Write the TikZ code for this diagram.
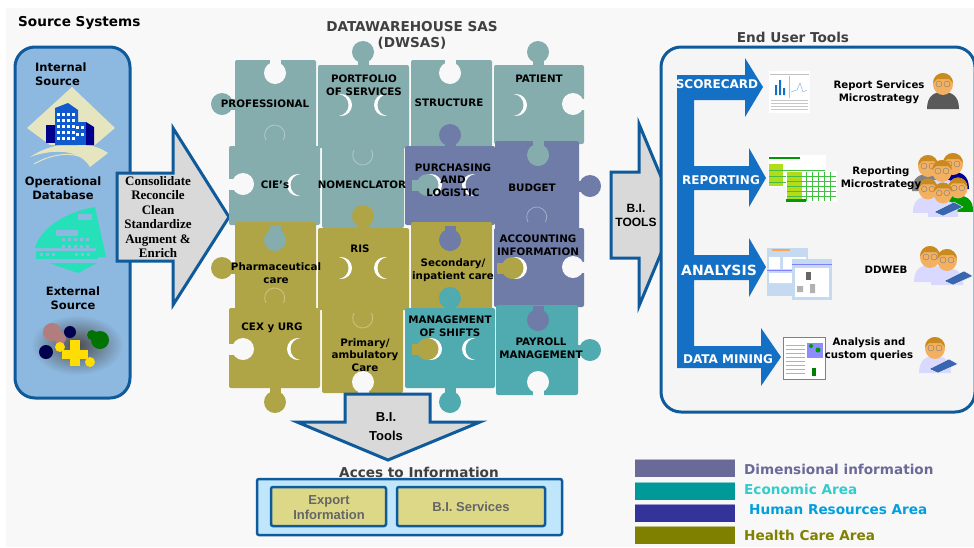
\documentclass[tikz,border=0pt]{standalone}
\usepackage{fontspec}
\setmainfont{DejaVu Sans}
\newfontfamily\cambriaish{Liberation Serif}
\newfontfamily\arialish{Liberation Sans}
\definecolor{pagegray}{HTML}{F8F8F8}
\definecolor{panelgray}{HTML}{F5F5F5}
\definecolor{frameblue}{HTML}{0F5A9A}
\definecolor{sourceblue}{HTML}{8DB8E0}
\definecolor{arrowgray}{HTML}{D9D9D9}
\definecolor{barblue}{HTML}{1470C4}
\definecolor{pieceteal}{HTML}{85ADAD}
\definecolor{pieceolive}{HTML}{AFA546}
\definecolor{pieceblue}{HTML}{6F7CA8}
\definecolor{pieceturq}{HTML}{4FABB0}
\definecolor{titlegray}{HTML}{404040}
\definecolor{skin}{HTML}{F2B060}
\definecolor{hair}{HTML}{C98A20}
\definecolor{bookblue}{HTML}{3A66B0}
\definecolor{mint}{HTML}{25E0B8}
\definecolor{beige}{HTML}{E5E5BF}
\definecolor{screenblue}{HTML}{C5DAF0}
\definecolor{outerbox}{HTML}{BFE6FA}
\definecolor{innerbox}{HTML}{DDD888}
\tikzset{
  lab/.style={font=\bfseries\fontsize{10.3}{12.7}\selectfont, align=center, inner sep=0pt},
  smalllab/.style={font=\bfseries\fontsize{10.2}{12.7}\selectfont, align=center, inner sep=0pt},
  head/.style={font=\bfseries\fontsize{13.6}{16}\selectfont, align=center, inner sep=0pt},
  sourcelab/.style={font=\bfseries\fontsize{11.5}{14}\selectfont, align=center, inner sep=0pt},
  barlab/.style={font=\bfseries\fontsize{12}{14}\selectfont, text=white, inner sep=0pt},
  legendlab/.style={font=\bfseries\fontsize{13.6}{15}\selectfont, anchor=west, inner sep=0pt},
  boxlab/.style={align=center, inner sep=0pt, text=black!60, font=\arialish\bfseries\fontsize{13}{15.5}\selectfont},
  grayblock/.style={draw=frameblue, line width=3pt, fill=arrowgray},
  panel/.style={draw=frameblue, line width=3pt, rounded corners=20pt},
  infobox/.style={draw=frameblue, line width=2.5pt, fill=#1, rounded corners=2pt},
  ghost/.style={draw=white, opacity=.35, line width=.8pt},
  person/.pic={
    \fill[#1] (-16,25) .. controls (-16,11) and (-8,8) .. (0,8) .. controls (8,8) and (16,11) .. (16,25) -- cycle;
    \fill[skin] (0,0) ellipse (10 and 11);
    \fill[hair] (-10,-1) arc (180:360:10) -- (6,-5) -- (-6,-5) -- cycle;
    \draw[gray,thin] (-4,0) circle (3) (4,0) circle (3);
  },
  book/.pic={
    \fill[bookblue,draw=white,thin] (-14,4) -- (6,-6) -- (15,-1) -- (-5,8) -- cycle;
  },
}
\begin{document}
\begin{tikzpicture}[x=1pt,y=-1pt]
\useasboundingbox (0,0) rectangle (974,547);
\fill[white] (0,0) rectangle (974,547);
\fill[pagegray] (6,8) rectangle (974,547);

%%%%%%%%%%%%%%%%%%%%%%%%%%%%%%%%%%%%%%%%%%% source systems
\node[head, anchor=west](sourcetitle) at (18,23) {Source Systems};
\draw[panel, fill=sourceblue] (15,47) rectangle (130,398);
\node[sourcelab, align=left, anchor=west](internal) at (35,74) {Internal\\Source};
\node[sourcelab](operational) at (63,188) {Operational\\Database};
\node[sourcelab](external) at (73,298) {External\\Source};

%%%%% building
\fill[beige] (72,87) -- (115,128) -- (95,145) -- (50,145) -- (27,128) -- cycle;
\fill[beige] (30,157) .. controls (55,140) and (90,140) .. (108,153) -- (90,167) .. controls (80,150) and (55,148) .. (30,157) -- cycle;
\draw[beige, line width=1pt] (34,164) .. controls (55,152) and (75,152) .. (88,160);
\fill[barblue!80!blue] (55,108) -- (68,103) -- (78,110) -- (78,145) -- (55,145) -- cycle;
\fill[blue!55!black] (46,125) rectangle (55,143);
\fill[barblue!80!blue] (73,122) rectangle (86,145);
\fill[blue!55!black] (86,122) -- (94,127) -- (94,145) -- (86,145) -- cycle;
\foreach \x in {57,62,67,72}
  \foreach \y in {113,119,125,131,137}
    \fill[white] (\x,\y) rectangle +(2.5,3);
\foreach \x in {76,81}
  \foreach \y in {126,133}
    \fill[white] (\x,\y) rectangle +(2.5,3);

%%%%% hospital
\fill[mint] (35,247) .. controls (42,228) and (65,212) .. (95,207) -- (106,257) -- (96,257) -- (96,248) -- (35,248) -- cycle;
\fill[mint] (36,251) rectangle (98,259);
\fill[mint] (49,263) -- (97,263) -- (78,273) -- cycle;
\fill[sourceblue] (56,230) rectangle (78,236);
\fill[sourceblue] (78,214) rectangle (92,220);
\foreach \x in {62,68,74,80,86}
  \foreach \y in {238,245}
    \fill[sourceblue] (\x,\y) rectangle +(3,3);
\foreach \x in {40,46,52,75,81,87}
  \fill[sourceblue] (\x,253) rectangle +(3,3);

%%%%% external picture
\shade[inner color=black!70, middle color=black!60, outer color=sourceblue] (77,345) ellipse (46 and 30);
\fill[red!30!white!70!black] (52,332) circle (9) (60,338) circle (6);
\fill[blue!30!black] (70,332) circle (6) (46,352) circle (7);
\fill[green!45!black] (100,340) circle (9) (92,335) circle (5);
\fill[yellow!80!orange] (62,350) rectangle (88,359);
\fill[yellow!80!orange] (70,340) rectangle (80,366);
\fill[yellow!80!orange] (60,347) circle (5) (90,362) circle (5);

\draw[grayblock] (117,173) -- (173,173) -- (173,128) -- (229,217) -- (173,305) -- (173,261) -- (117,261) -- cycle;
\node[align=center, inner sep=0pt, font=\cambriaish\bfseries\fontsize{13}{14.5}\selectfont](steps) at (158,217) {Consolidate\\Reconcile\\Clean\\Standardize\\Augment \&\\Enrich};

%%%%%%%%%%%%%%%%%%%%%%%%%%%%%%%%%%%%%%%%%%% puzzle
\node[head, text=titlegray](dwtitle) at (412,35) {DATAWAREHOUSE SAS\\(DWSAS)};

%%%%% pieces
\begin{scope}[rounded corners=2pt]
\fill[pieceteal] (235,60) rectangle (316,148);
\fill[pieceteal] (318,65) rectangle (409,148);
\fill[pieceteal] (411,60) rectangle (492,148);
\fill[pieceteal] (494,65) rectangle (584,144);
\fill[pieceteal] (229,146) rectangle (320,225);
\fill[pieceteal] (322,146) rectangle (404,228);
\fill[pieceblue] (405,146) rectangle (495,225);
\fill[pieceblue] (495,141) rectangle (579,230);
\fill[pieceolive] (235,222) rectangle (316,310);
\fill[pieceolive] (318,228) rectangle (409,310);
\fill[pieceolive] (411,222) rectangle (492,310);
\fill[pieceblue] (494,228) rectangle (584,307);
\fill[pieceolive] (229,308) rectangle (320,388);
\fill[pieceolive] (322,308) rectangle (403,393);
\fill[pieceturq] (405,308) rectangle (495,388);
\fill[pieceturq] (496,305) rectangle (578,395);
\end{scope}

%%%%% tabs and crescents
\foreach \cx/\cy/\dx/\col in {341/105/-1/pieceteal,385/105/1/pieceteal,516/105/-1/pieceteal,
    298/185/1/pieceteal,431/185/-1/pieceteal,473/185/1/pieceblue,
    341/268/-1/pieceolive,385/268/1/pieceolive,516/268/-1/pieceolive,
    298/349/1/pieceolive,431/349/-1/pieceolive,473/349/1/pieceturq}{
  \fill[white] (\cx,\cy) circle (11);
  \fill[\col] (\cx+\dx*3.5,\cy) circle (11);
  \draw[\col, line width=11pt] (\cx+\dx*3.5,\cy) -- ++(\dx*16,0);
}
\foreach \cx/\cy/\dx/\dy/\col in {363/52/0/14/pieceteal,538/52/0/14/pieceteal,222/104/14/0/pieceteal,
    450/135/0/14/pieceblue,590/186/-13/0/pieceblue,222/268/14/0/pieceolive,363/216/0/14/pieceolive,
    275/402/0/-14/pieceolive,450/298/0/14/pieceturq,450/402/0/-14/pieceturq,590/350/-13/0/pieceturq,
    275/240/0/-14/pieceteal,450/240/0/-14/pieceblue,538/155/0/-14/pieceteal,538/320/0/-14/pieceblue,
    275/73/0/-15/pagegray,450/73/0/-15/pagegray,573/104/15/0/pagegray,573/267/15/0/pagegray,
    243/184/-15/0/pagegray,243/349/-15/0/pagegray,363/382/0/13/pagegray,538/382/0/15/pagegray}{
  \fill[\col] (\cx,\cy) circle (11);
  \draw[\col, line width=11pt] (\cx,\cy) -- ++(\dx,\dy);
}
\draw[ghost] (266,140) arc (150:390:10);
\draw[ghost] (266,303) arc (150:390:10);
\draw[ghost] (528,222) arc (150:390:10);
\draw[ghost] (354,150) arc (210:-30:10);
\draw[ghost] (354,313) arc (210:-30:10);

%%%%% labels
\node[lab](professional) at (265,104) {PROFESSIONAL};
\node[lab](portfolio) at (364,85.5) {PORTFOLIO\\OF SERVICES};
\node[lab](structure) at (449,103) {STRUCTURE};
\node[lab](patient) at (539,79) {PATIENT};
\node[lab](cies) at (275,185) {CIE’s};
\node[lab](nomenclator) at (362,185) {NOMENCLATOR};
\node[lab](purchasing) at (453,180) {PURCHASING\\AND\\LOGISTIC};
\node[lab](budget) at (532,188) {BUDGET};
\node[lab](pharma) at (276,273.5) {Pharmaceutical\\care};
\node[lab](ris) at (360,249) {RIS};
\node[lab](secondary) at (453,270.5) {Secondary/\\inpatient care};
\node[lab](accounting) at (538,245.5) {ACCOUNTING\\INFORMATION};
\node[lab](cex) at (272,328) {CEX y URG};
\node[lab](primary) at (365,355) {Primary/\\ambulatory\\Care};
\node[lab](shifts) at (450,326.5) {MANAGEMENT\\OF SHIFTS};
\node[lab](payroll) at (541,348) {PAYROLL\\MANAGEMENT};

%%%%%%%%%%%%%%%%%%%%%%%%%%%%%%%%%%%%%%%%%%% end user tools
\draw[grayblock] (611,172) -- (639,172) -- (639,124) -- (677,215) -- (639,306) -- (639,258) -- (611,258) -- cycle;
\node[align=center, inner sep=0pt, font=\arialish\bfseries\fontsize{12}{14}\selectfont](bitools) at (636,215) {B.I.\\TOOLS};
\node[head, text=titlegray](endtitle) at (793,37) {End User Tools};
\draw[panel, fill=panelgray] (661,47) rectangle (975,412);

\fill[barblue] (677,75) -- (745,75) -- (745,58) -- (763,87) -- (745,117) -- (745,100) -- (694,100) -- (694,166)
  -- (749,166) -- (749,148) -- (766,178) -- (749,207) -- (749,190) -- (694,190) -- (694,255)
  -- (749,255) -- (749,238) -- (766,267) -- (749,297) -- (749,280) -- (694,280) -- (694,346)
  -- (761,346) -- (761,328) -- (781,357) -- (761,386) -- (761,368) -- (677,368) -- cycle;
\node[barlab](scorecard) at (717,84) {SCORECARD};
\node[barlab](reporting) at (721,180) {REPORTING};
\node[barlab, font=\bfseries\fontsize{14}{15}\selectfont](analysis) at (719,270) {ANALYSIS};
\node[barlab](mining) at (728,359) {DATA MINING};

%%%%% screens
\fill[white] (769,71) rectangle (810,113);
\draw[gray!50, thin] (770,74) -- (809,74) (789,76) -- (789,98);
\fill[barblue] (775,95) rectangle (777,85) (779,95) rectangle (781,80) (783,95) rectangle (785,88);
\draw[barblue!60, thin] (791,92) -- (797,90) -- (800,83) -- (803,92) -- (807,90);
\foreach \y in {100,103,106,109}
  \draw[gray!45, thin] (771,\y) -- (808,\y);

\fill[white] (768,155) rectangle (826,187);
\fill[green!60!black] (769,157) rectangle (800,159);
\fill[yellow!70!green] (769,164) rectangle (783,186);
\draw[green!50!gray, thin] (769,170) -- (825,170) (769,176) -- (825,176) (769,182) -- (825,182);
\fill[white] (786,171) rectangle (837,202);
\fill[yellow!70!green] (787,172) rectangle (802,199);
\fill[green!60!black] (786,199) rectangle (806,202);
\foreach \y in {176,181,186,191,196}
  \draw[green!50!gray, thin] (787,\y) -- (836,\y);
\foreach \x in {806,812,818,824,830}
  \draw[green!50!gray, thin] (\x,172) -- (\x,201);

\fill[screenblue] (767,248) rectangle (808,296);
\fill[orange!70] (772,249) rectangle (790,251);
\fill[white] (769,257) rectangle (780,269) (783,257) rectangle (806,269) (769,273) rectangle (806,283);
\fill[screenblue] (792,259) rectangle (832,300);
\fill[white] (795,268) rectangle (829,297);
\fill[black!60] (806,272) rectangle (811,280);
\fill[gray!60] (810,284) rectangle (815,293) (797,286) rectangle (803,292);
\draw[blue!50, thin] (767,270) -- (792,270) (792,264) -- (832,264);

\fill[white, draw=gray] (783,337) rectangle (825,379);
\fill[blue!45!white] (807,343) rectangle (823,358);
\fill[green!60!black] (811,346) circle (2) (818,350) circle (2.5);
\foreach \y in {345,349,353,357,361,365,369,373}
  \draw[gray!60, thin] (786,\y) -- (805,\y);
\fill[green!50!black] (812,368) rectangle (816,376);

%%%%% people
\pic at (943,84) {person=black!65};
\pic at (928,166) {person=gray};
\pic at (953,164) {person=blue!60!black};
\pic at (942,171) {person=white!85!blue};
\pic[scale=.95] at (928,189) {person=white!85!blue};
\pic[scale=.95] at (958,188) {person=green!60!black};
\pic[scale=.95] at (943,193) {person=white!85!blue};
\pic at (948,208) {book};
\pic at (930,257) {person=white!85!blue};
\pic at (947,260) {person=white!85!blue};
\pic at (958,277) {book};
\pic at (935,348) {person=white!85!blue};
\pic at (943,365) {book};

\node[smalllab](reportsvc) at (879,92.5) {Report Services\\Microstrategy};
\node[smalllab](reportms) at (881,178.5) {Reporting\\Microstrategy};
\node[smalllab](ddweb) at (886,270) {DDWEB};
\node[smalllab](custom) at (869,349) {Analysis and\\custom queries};

%%%%%%%%%%%%%%%%%%%%%%%%%%%%%%%%%%%%%%%%%%% access to information
\draw[grayblock] (345,394) -- (430,394) -- (430,422) -- (480,422) -- (388,460) -- (297,422) -- (345,422) -- cycle;
\node[align=center, inner sep=0pt, font=\arialish\bfseries\fontsize{13}{19}\selectfont](bitoolslow) at (386,426.5) {B.I.\\Tools};
\node[head, text=titlegray](access) at (419,472) {Acces to Information};
\draw[infobox=outerbox] (257,479) rectangle (562,535);
\draw[infobox=innerbox] (271,487) rectangle (386,526);
\draw[infobox=innerbox] (397,487) rectangle (545,526);
\node[boxlab](export) at (329,507.5) {Export\\Information};
\node[boxlab](services) at (471,507) {B.I. Services};

%%%%%%%%%%%%%%%%%%%%%%%%%%%%%%%%%%%%%%%%%%% legend
\foreach \y/\col in {459/6A6A98,482/009999,504/333399,526/808000}{
  \definecolor{swatch}{HTML}{\col}
  \fill[swatch] (635,\y) rectangle +(100,18);
  \draw[swatch!50!white, thin] (635,\y) -- +(100,0);
}
\node[legendlab, text={rgb,255:red,106;green,106;blue,152}](dimensional) at (744,469) {Dimensional information};
\node[legendlab, text={rgb,255:red,51;green,204;blue,204}](economic) at (744,489) {Economic Area};
\node[legendlab, text={rgb,255:red,0;green,160;blue,224}](human) at (749,510) {Human Resources Area};
\node[legendlab, text={rgb,255:red,128;green,128;blue,0}](health) at (744,535) {Health Care Area};
\end{tikzpicture}
\end{document}
